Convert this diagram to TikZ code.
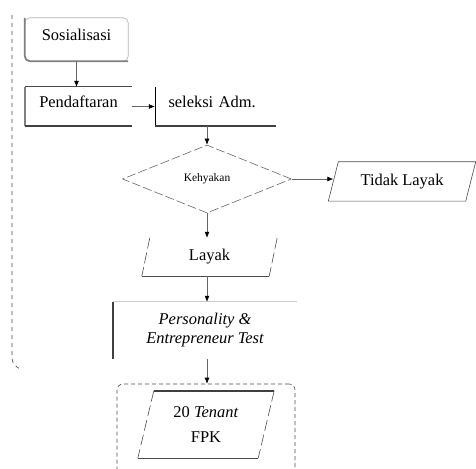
\documentclass[tikz,border=0pt]{standalone}
\usepackage{fontspec}
\setmainfont{Liberation Serif}
\usetikzlibrary{calc}
\usetikzlibrary{shapes.geometric}
\usetikzlibrary{arrows.meta}

\begin{document}
\begin{tikzpicture}[x=1bp,y=-1bp,
    every node/.style={font=\fontsize{16.5}{19}\selectfont, inner sep=0pt},
    hightext/.style={text depth=10bp},
    flow/.style={draw=black!60, line width=0.6bp, -{Latex[length=6bp,width=5bp,color=black]}},
    thinedge/.style={draw=black!70, line width=0.6bp},
    thickedge/.style={draw=black!75, line width=1.8bp},
    slantedge/.style={draw=black!70, line width=0.6bp, dash pattern=on 11bp off 4bp}]
\useasboundingbox (0,0) rectangle (476,469);
\clip (0,0) rectangle (476,469);

% outer dashed frame, only its left side shows
\draw[draw=black!70, line width=0.6bp, dash pattern=on 4bp off 4bp]
    (12,15) -- (12,358) to[out=-90,in=150] (20,369);

% Sosialisasi
\node[hightext, minimum width=103bp, minimum height=43bp] (sos) at (76.5,39.5) {Sosialisasi};
\draw[draw=black!30, line width=0.6bp, rounded corners=5bp] (sos.north west) rectangle (sos.south east);
\draw[thickedge, draw=black!50, rounded corners=5bp] (sos.north west) -- (sos.south west) -- (sos.south east);

% Pendaftaran and seleksi Adm.
\node[hightext, minimum width=107bp, minimum height=39bp] (pend) at (78.5,106.5) {Pendaftaran};
\draw[thinedge] (pend.north west) -- (pend.north east);
\draw[thickedge, draw=black!50] (pend.north west) -- (pend.south west);
\draw[thickedge] (pend.south west) -- (pend.south east);

\node[hightext, minimum width=121bp, minimum height=39bp, text width=94bp, align=left] (sel) at (215.5,106.5) {seleksi Adm.};
\draw[thinedge, draw=black] (sel.north west) -- (sel.south west);
\draw[thickedge] (sel.south west) -- (sel.south east);

% decision
\node[diamond, draw=black!60, line width=0.6bp, dash pattern=on 9bp off 3bp,
      minimum width=169bp, minimum height=68bp, font=\fontsize{11.5}{13}\selectfont] (kel) at (207,179) {Kehyakan};

% Tidak Layak
\node[minimum width=137bp, minimum height=39bp] (tid) at (402,181.5) {Tidak Layak};
\draw[thinedge] ($(tid.south west)+(-5,0)$) -- ($(tid.north west)+(5,0)$) -- ($(tid.north east)+(5,0)$)
    -- ($(tid.south east)+(-5,0)$) -- cycle;

% Layak
\node[minimum width=127bp, minimum height=38bp] (lay) at (209.5,257) {Layak};
\draw[thinedge] ($(lay.south west)+(-4,0)$) -- ($(lay.south east)+(-4,0)$);
\draw[slantedge] ($(lay.north west)+(4,0)$) -- ($(lay.south west)+(-4,0)$);
\draw[slantedge] ($(lay.north east)+(4,0)$) -- ($(lay.south east)+(-4,0)$);

% Personality test
\node[minimum width=184bp, minimum height=57bp, align=center, font=\fontsize{16.5}{19}\selectfont\itshape] (pet) at (205,330.5)
    {Personality \&\\Entrepreneur Test};
\draw[draw=black!20, line width=0.8bp] (pet.north west) -- (pet.north east);
\draw[thickedge] (pet.north west) -- (pet.south west);

% result group
\node[draw=black!70, line width=0.6bp, dash pattern=on 4bp off 3bp, rounded corners=6bp,
      minimum width=178bp, minimum height=140bp] (grp) at (206,454) {};
\node[minimum width=120bp, minimum height=67bp, align=center, font=\fontsize{16.5}{26}\selectfont] (ten) at (206,424.5)
    {20 \textit{Tenant}\\FPK};
\draw[thickedge] ($(ten.north west)+(8,0)$) -- ($(ten.north east)+(8,0)$);
\draw[draw=black!70, line width=1.1bp] ($(ten.south west)+(-8,0)$) -- ($(ten.south east)+(-8,0)$);
\draw[slantedge] ($(ten.north west)+(8,0)$) -- ($(ten.south west)+(-8,0)$);
\draw[slantedge] ($(ten.north east)+(8,0)$) -- ($(ten.south east)+(-8,0)$);

% connectors
\draw[flow] (sos.south) -- (sos.south |- pend.north);
\draw[flow] (pend.east) -- (pend.east -| sel.west);
\draw[flow] (kel.north |- sel.south) -- (kel.north);
\draw[flow] (kel.east) -- (kel.east -| tid.west);
\draw[flow] (kel.south) -- (kel.south |- lay.north);
\draw[flow] (kel.south |- lay.south) -- (kel.south |- pet.north);
\draw[flow] (kel.south |- pet.south) -- (kel.south |- grp.north);
\end{tikzpicture}
\end{document}
